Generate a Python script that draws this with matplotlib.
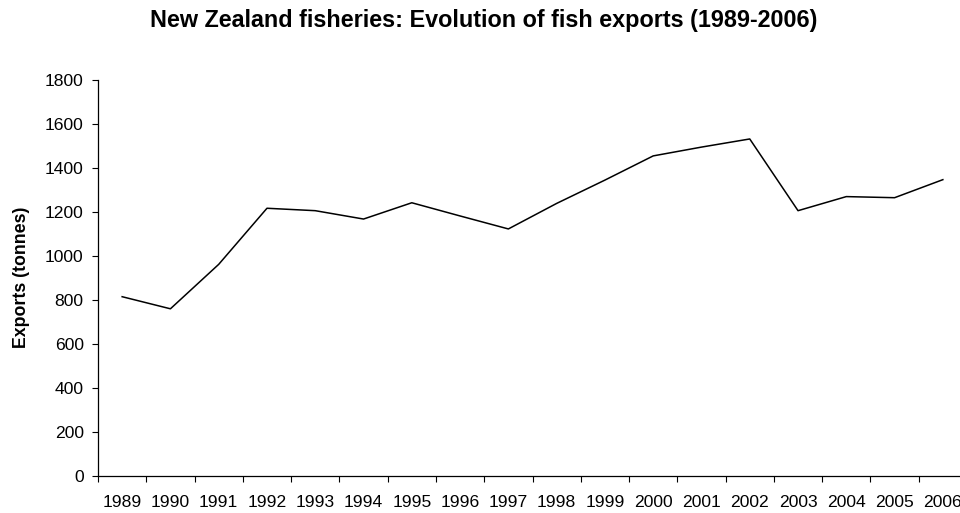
import numpy as np
import matplotlib.pyplot as plt
from matplotlib.ticker import FixedLocator, NullFormatter

plt.rcParams['font.family'] = ['Liberation Sans', 'DejaVu Sans']

years = [str(y) for y in range(1989, 2007)]
exports = [815, 760, 962, 1217, 1206, 1168, 1242, 1182, 1123, 1239,
           1345, 1455, 1495, 1532, 1206, 1270, 1265, 1347]
y_ticks = list(range(0, 1801, 200))

fig = plt.figure(figsize=(9.6, 5.13), dpi=100)
ax = fig.add_axes([98 / 960, 37 / 513, 869 / 960, 396 / 513])

x = np.arange(len(years))
ax.plot(x, exports, color='black', linewidth=1.1)

ax.set_xlim(-0.5, len(years) - 0.5)
ax.set_ylim(0, 1800)
ax.set_yticks(y_ticks)

# ticks on category borders, labels in the middle
ax.xaxis.set_major_locator(FixedLocator(np.arange(-0.5, len(years), 1.0)))
ax.xaxis.set_major_formatter(NullFormatter())
ax.xaxis.set_minor_locator(FixedLocator(x))
ax.set_xticklabels(years, minor=True)
ax.tick_params(axis='x', which='major', length=4, width=0.8, direction='out')
ax.tick_params(axis='x', which='minor', length=0, pad=14, labelsize=12.6)
ax.tick_params(axis='y', length=4.3, width=0.8, direction='out', labelsize=12.6, pad=6)

ax.spines['top'].set_visible(False)
ax.spines['right'].set_visible(False)
ax.spines['left'].set_linewidth(0.9)
ax.spines['bottom'].set_linewidth(0.9)

fig.text(22 / 960, 1 - 277 / 513, 'Exports (tonnes)', rotation=90,
         ha='center', va='center', fontsize=12.8, fontweight='bold')
fig.text(484 / 960, 1 - 27.5 / 513, 'New Zealand fisheries: Evolution of fish exports (1989-2006)',
         ha='center', va='baseline', fontsize=16.8, fontweight='bold')

plt.savefig('out.png', dpi=100)
